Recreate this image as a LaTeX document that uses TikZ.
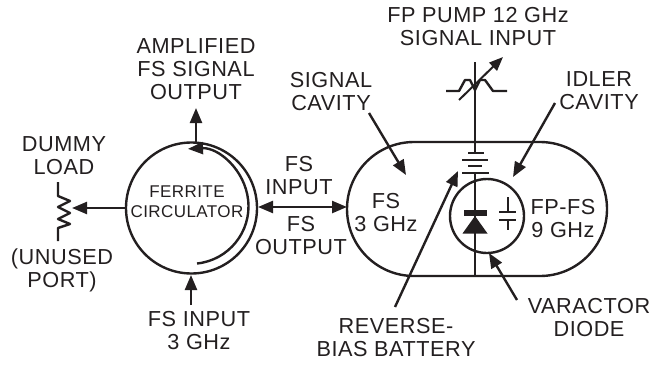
\documentclass[tikz,border=0pt]{standalone}
\usepackage{fontspec}
\setmainfont[LetterSpace=2.5]{Liberation Sans}
\usetikzlibrary{arrows.meta,shapes.misc}
\definecolor{ink}{HTML}{231F20}
\tikzset{
  lbl/.style={inner sep=0pt,align=center,text=ink,font=\fontsize{21.7}{23}\selectfont},
  lblsmall/.style={inner sep=0pt,align=center,text=ink,font=\fontsize{17}{20}\selectfont},
  wire/.style={draw=ink,line width=2.4pt},
  arrowline/.style={draw=ink,line width=2.4pt,-{Triangle[length=15pt,width=12pt]}},
  biarrow/.style={draw=ink,line width=2.4pt,{Triangle[length=15pt,width=12pt]}-{Triangle[length=15pt,width=12pt]}},
  plate/.style={draw=ink,line width=2.4pt},
}
\begin{document}
\begin{tikzpicture}[x=1pt,y=-1pt]
\useasboundingbox (0,0) rectangle (652,364);
% main bodies
\node[wire,circle,minimum size=131pt,inner sep=0pt] (circ) at (191.5,208) {};
\node[wire,rounded rectangle,minimum width=260pt,minimum height=134pt,inner sep=0pt] (cav) at (477,209) {};
\node[wire,circle,minimum size=74pt,inner sep=0pt] (idl) at (487,216) {};
% labels
\node[lbl] (amp) at (196,69.5) {AMPLIFIED\\FS SIGNAL\\OUTPUT};
\node[lbl] (dummy) at (64,155.5) {DUMMY\\LOAD};
\node[lbl] (unused) at (62,270.5) {(UNUSED\\PORT)};
\node[lblsmall] (ferr) at (187,202) {FERRITE\\CIRCULATOR};
\node[lbl] (fsin) at (299,176) {FS\\INPUT};
\node[lbl] (fsout) at (301,236) {FS\\OUTPUT};
\node[lbl] (fsin3) at (199,331) {FS INPUT\\3 GHz};
\node[lbl] (pump) at (478,26.5) {FP PUMP 12 GHz\\SIGNAL INPUT};
\node[lbl] (sigc) at (331,91.5) {SIGNAL\\CAVITY};
\node[lbl] (idc) at (599,90.5) {IDLER\\CAVITY};
\node[lbl] (fs) at (386,212.5) {FS\\3 GHz};
\node[lbl] (fpfs) at (563,219) {FP-FS\\9 GHz};
\node[lbl] (var) at (589,317.5) {VARACTOR\\DIODE};
\node[lbl] (rev) at (396,337.5) {REVERSE-\\BIAS BATTERY};
% free ends
\coordinate (ampTip) at (196,108);
\coordinate (circTop) at (196,142);
\coordinate (loadTip) at (72,208);
\coordinate (circLeft) at (126,208);
\coordinate (circRight) at (258,207);
\coordinate (cavLeft) at (347,207);
\coordinate (inBot) at (191,305);
\coordinate (inTip) at (191,275);
\coordinate (sigS) at (369,113);
\coordinate (sigT) at (406,175);
\coordinate (idS) at (555,103);
\coordinate (idT) at (513,177);
\coordinate (revS) at (395,307);
\coordinate (revT) at (458,171);
\coordinate (varS) at (517,300);
\coordinate (varT) at (489,253);
% arrows
\draw[arrowline] (circTop) -- (ampTip);
\draw[arrowline] (circLeft) -- (loadTip);
\draw[biarrow] (circRight) -- (cavLeft);
\draw[arrowline] (inBot) -- (inTip);
\draw[arrowline] (sigS) -- (sigT);
\draw[arrowline] (idS) -- (idT);
\draw[arrowline] (revS) -- (revT);
\draw[arrowline] (varS) -- (varT);
% circulation arrow
\coordinate (arcS) at (197,263.5);
\draw[arrowline] (arcS) arc[start angle=84,end angle=-93,radius=57.5];
% dummy load resistor
\draw[wire,line join=round] (58,182) -- (58,196) -- (70,201) -- (58,207) -- (70,213) -- (58,219) -- (70,224) -- (58,228) -- (58,241);
% variable resistor
\draw[wire,line join=round] (446,91) -- (459,91) -- (465,80) -- (470,80) -- (475,90) -- (480,80) -- (485,80) -- (493,91) -- (507,91);
\coordinate (vrS) at (459,100);
\coordinate (vrT) at (503,57);
\draw[draw=ink,line width=2pt,-{Triangle[length=14pt,width=11pt]}] (vrS) -- (vrT);
% pump line and battery
\draw[wire] (475,62) -- (475,153);
\draw[plate] (468,153) -- (484,153);
\draw[plate] (462,160) -- (488,160);
\draw[plate] (468,166) -- (482,166);
\draw[plate] (462,173) -- (489,173);
\draw[wire] (475,173) -- (475,276);
% diode
\fill[ink] (463.5,210) rectangle (486.5,216);
\fill[ink] (475,216) -- (487.5,233.5) -- (462.5,233.5) -- cycle;
% capacitor
\draw[wire] (508,197) -- (508,212);
\draw[plate] (499,212) -- (516,212);
\draw[plate] (499,220) -- (516,220);
\draw[wire] (508,220) -- (508,230);
\end{tikzpicture}
\end{document}
